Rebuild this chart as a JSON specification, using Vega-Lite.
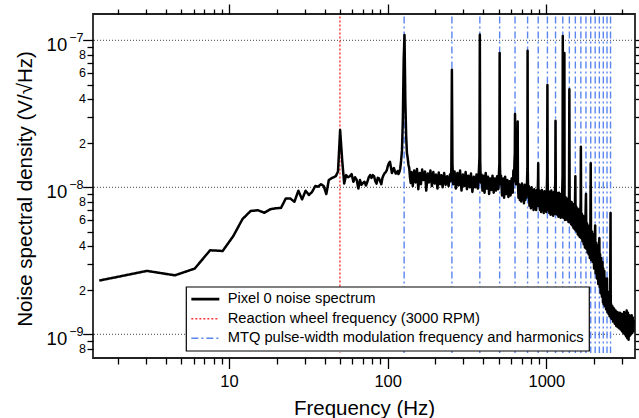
{
  "$schema": "https://vega.github.io/schema/vega-lite/v6.json",
  "width": 542,
  "height": 344,
  "autosize": {"type": "none"},
  "padding": {"left": 93, "top": 14, "right": 4, "bottom": 60},
  "background": "white",
  "config": {
    "font": "Liberation Sans",
    "view": {"stroke": "#222", "strokeWidth": 1.8},
    "axis": {"grid": false, "domain": false, "tickColor": "#000", "tickWidth": 1.3, "labelColor": "#000", "titleColor": "#000", "titleFontWeight": "normal", "labelOverlap": false, "labelFlush": false, "labelBound": false},
    "legend": {"strokeWidth": 1.2, "labelLimit": 0}
  },
  "datasets": {
    "spec": [
      {"f":1.52,"v":2.32e-9},{"f":3.04,"v":2.70e-9},{"f":4.56,"v":2.52e-9},{"f":6.08,"v":2.80e-9},{"f":7.6,"v":3.73e-9},{"f":9.12,"v":3.69e-9},{"f":10.64,"v":4.66e-9},{"f":12.16,"v":6.08e-9},{"f":13.68,"v":6.90e-9},{"f":15.2,"v":6.98e-9},{"f":16.72,"v":6.71e-9},{"f":18.24,"v":7.10e-9},{"f":19.76,"v":7.20e-9},{"f":21.28,"v":7.25e-9},{"f":22.8,"v":8.40e-9},{"f":24.32,"v":8.40e-9},{"f":25.84,"v":7.97e-9},{"f":27.36,"v":9.48e-9},{"f":28.88,"v":8.28e-9},{"f":30.4,"v":9.48e-9},{"f":31.92,"v":8.86e-9},{"f":33.44,"v":9.33e-9},{"f":34.96,"v":1.02e-8},{"f":36.48,"v":1.01e-8},{"f":38.0,"v":1.05e-8},{"f":39.52,"v":1.02e-8},{"f":41.04,"v":9.0e-9},{"f":42.56,"v":1.12e-8},{"f":44.08,"v":1.15e-8},{"f":45.6,"v":1.17e-8},{"f":47.12,"v":1.19e-8},{"f":48.64,"v":1.28e-8},{"f":50.16,"v":2.45e-8},{"f":51.68,"v":1.53e-8},{"f":53.2,"v":1.06e-8},{"f":54.72,"v":1.21e-8},{"f":56.24,"v":1.17e-8},{"f":57.76,"v":1.19e-8},{"f":59.28,"v":1.23e-8},{"f":60.8,"v":1.09e-8},{"f":62.32,"v":1.17e-8},{"f":63.84,"v":1.12e-8},{"f":65.36,"v":9.8e-9},{"f":66.88,"v":1.12e-8},{"f":68.4,"v":1.04e-8},{"f":69.92,"v":1.07e-8},{"f":71.44,"v":1.09e-8},{"f":72.96,"v":1.03e-8},{"f":74.48,"v":1.09e-8},{"f":76.0,"v":1.17e-8},{"f":77.52,"v":1.21e-8},{"f":79.04,"v":1.16e-8},{"f":80.56,"v":1.21e-8},{"f":82.08,"v":1.19e-8},{"f":83.6,"v":1.10e-8},{"f":85.12,"v":1.06e-8},{"f":86.64,"v":1.16e-8},{"f":88.16,"v":1.15e-8},{"f":89.68,"v":1.10e-8},{"f":91.2,"v":1.05e-8},{"f":92.72,"v":1.16e-8},{"f":94.24,"v":1.21e-8},{"f":95.76,"v":1.25e-8},{"f":97.28,"v":1.27e-8},{"f":98.8,"v":1.31e-8},{"f":100.32,"v":1.40e-8},{"f":101.84,"v":1.46e-8},{"f":103.36,"v":1.49e-8},{"f":104.88,"v":1.37e-8},{"f":106.4,"v":1.25e-8},{"f":107.92,"v":1.31e-8},{"f":109.44,"v":1.35e-8},{"f":110.96,"v":1.29e-8},{"f":112.48,"v":1.24e-8},{"f":114.0,"v":1.25e-8},{"f":115.52,"v":1.29e-8},{"f":117.04,"v":1.23e-8},{"f":118.56,"v":1.27e-8},{"f":120.08,"v":1.35e-8},{"f":121.6,"v":1.53e-8},{"f":123.12,"v":1.79e-8},{"f":124.64,"v":2.87e-8},{"f":126.16,"v":7.35e-8},{"f":127.68,"v":1.087e-7},{"f":129.2,"v":3.93e-8},{"f":130.72,"v":2.27e-8},{"f":132.24,"v":1.71e-8},{"f":133.76,"v":1.58e-8},{"f":135.28,"v":1.42e-8},{"f":136.8,"v":1.35e-8},{"f":138.32,"v":1.16e-8},{"f":139.84,"v":1.07e-8},{"f":141.36,"v":1.27e-8},
      {"f":144,"v":1.02e-8},{"f":147,"v":1.30e-8},{"f":150,"v":1.08e-8},{"f":153,"v":1.33e-8},{"f":156,"v":9.7e-9},{"f":159,"v":1.25e-8},{"f":162,"v":1.05e-8},{"f":165,"v":1.32e-8},{"f":168,"v":1.12e-8},{"f":172,"v":1.28e-8},{"f":175,"v":9.5e-9},{"f":179,"v":1.24e-8},{"f":182,"v":1.08e-8},{"f":186,"v":1.30e-8},{"f":190,"v":1.02e-8},{"f":194,"v":1.27e-8},{"f":198,"v":1.06e-8},{"f":202,"v":1.22e-8},{"f":206,"v":9.8e-9},{"f":210,"v":1.26e-8},{"f":214,"v":1.05e-8},{"f":218,"v":1.21e-8},{"f":222,"v":1.00e-8},{"f":227,"v":1.25e-8},{"f":232,"v":1.04e-8},{"f":237,"v":1.19e-8},{"f":242,"v":1.02e-8},{"f":247,"v":1.22e-8},{"f":250,"v":1.10e-8},{"f":252,"v":1.35e-8},{"f":254,"v":6.3e-8},{"f":256,"v":1.45e-8},{"f":259,"v":1.05e-8},
      {"f":264,"v":1.28e-8},{"f":269,"v":9.8e-9},{"f":275,"v":1.25e-8},{"f":280,"v":1.03e-8},{"f":286,"v":1.30e-8},{"f":292,"v":9.5e-9},{"f":298,"v":1.22e-8},{"f":304,"v":1.02e-8},{"f":310,"v":1.27e-8},{"f":316,"v":9.7e-9},{"f":322,"v":1.20e-8},{"f":329,"v":1.00e-8},{"f":335,"v":1.24e-8},{"f":342,"v":9.3e-9},{"f":349,"v":1.18e-8},{"f":356,"v":1.00e-8},{"f":363,"v":1.22e-8},{"f":370,"v":9.8e-9},{"f":376,"v":1.30e-8},{"f":379,"v":1.60e-8},{"f":381,"v":1.09e-7},{"f":383,"v":1.55e-8},{"f":386,"v":1.08e-8},
      {"f":390,"v":1.22e-8},{"f":396,"v":9.5e-9},{"f":402,"v":1.20e-8},{"f":408,"v":9.2e-9},{"f":415,"v":1.25e-8},{"f":422,"v":9.8e-9},{"f":429,"v":1.18e-8},{"f":436,"v":9.0e-9},{"f":443,"v":1.15e-8},{"f":450,"v":9.6e-9},{"f":458,"v":1.20e-8},{"f":466,"v":9.2e-9},{"f":474,"v":1.15e-8},{"f":482,"v":9.5e-9},{"f":490,"v":1.19e-8},{"f":498,"v":9.7e-9},{"f":503,"v":1.25e-8},{"f":506,"v":1.45e-8},{"f":508,"v":8.2e-8},{"f":510,"v":1.40e-8},{"f":514,"v":1.05e-8},
      {"f":518,"v":1.20e-8},{"f":526,"v":8.8e-9},{"f":534,"v":1.15e-8},{"f":542,"v":8.5e-9},{"f":550,"v":1.18e-8},{"f":559,"v":9.0e-9},{"f":568,"v":1.12e-8},{"f":577,"v":8.6e-9},{"f":586,"v":1.10e-8},{"f":595,"v":8.8e-9},{"f":605,"v":1.15e-8},{"f":614,"v":9.2e-9},{"f":620,"v":1.30e-8},{"f":626,"v":1.10e-8},{"f":630,"v":1.50e-8},{"f":633,"v":1.7e-8},{"f":635,"v":3.15e-8},{"f":638,"v":1.3e-8},{"f":645,"v":1.05e-8},{"f":652,"v":1.4e-8},{"f":658,"v":1.8e-8},{"f":660,"v":2.8e-8},{"f":662,"v":1.1e-8},{"f":668,"v":8.5e-9},
      {"f":674,"v":1.05e-8},{"f":681,"v":8.2e-9},{"f":688,"v":1.02e-8},{"f":695,"v":8.0e-9},{"f":702,"v":1.06e-8},{"f":709,"v":8.4e-9},{"f":716,"v":1.00e-8},{"f":723,"v":7.8e-9},{"f":730,"v":1.04e-8},{"f":737,"v":8.2e-9},{"f":744,"v":1.00e-8},{"f":750,"v":8.5e-9},{"f":756,"v":1.10e-8},{"f":760,"v":1.35e-8},{"f":762,"v":8.5e-8},{"f":764,"v":1.3e-8},{"f":768,"v":9.0e-9},
      {"f":775,"v":1.02e-8},{"f":783,"v":7.5e-9},{"f":791,"v":9.8e-9},{"f":799,"v":7.2e-9},{"f":807,"v":1.00e-8},{"f":815,"v":7.4e-9},{"f":823,"v":9.5e-9},{"f":831,"v":7.0e-9},{"f":839,"v":9.7e-9},{"f":847,"v":7.3e-9},{"f":855,"v":9.4e-9},{"f":863,"v":7.0e-9},{"f":871,"v":9.6e-9},{"f":878,"v":7.5e-9},{"f":884,"v":1.00e-8},{"f":887,"v":1.15e-8},{"f":889,"v":1.46e-8},{"f":891,"v":1.05e-8},{"f":895,"v":7.5e-9},
      {"f":903,"v":9.5e-9},{"f":911,"v":7.0e-9},{"f":919,"v":9.3e-9},{"f":928,"v":6.8e-9},{"f":937,"v":9.6e-9},{"f":946,"v":7.0e-9},{"f":955,"v":9.2e-9},{"f":964,"v":6.7e-9},{"f":973,"v":9.4e-9},{"f":982,"v":6.9e-9},{"f":991,"v":9.0e-9},{"f":1000,"v":6.8e-9},{"f":1007,"v":9.5e-9},{"f":1012,"v":1.2e-8},{"f":1016,"v":4.96e-8},{"f":1020,"v":1.1e-8},{"f":1025,"v":7.0e-9},
      {"f":1035,"v":9.4e-9},{"f":1045,"v":6.7e-9},{"f":1055,"v":9.2e-9},{"f":1065,"v":6.5e-9},{"f":1075,"v":9.5e-9},{"f":1085,"v":6.8e-9},{"f":1095,"v":9.0e-9},{"f":1105,"v":6.4e-9},{"f":1115,"v":9.3e-9},{"f":1125,"v":6.6e-9},{"f":1133,"v":9.2e-9},{"f":1139,"v":1.1e-8},{"f":1143,"v":2.84e-8},{"f":1147,"v":1.0e-8},{"f":1152,"v":6.6e-9},
      {"f":1162,"v":9.2e-9},{"f":1172,"v":6.5e-9},{"f":1182,"v":9.0e-9},{"f":1192,"v":6.3e-9},{"f":1202,"v":9.2e-9},{"f":1212,"v":6.4e-9},{"f":1222,"v":8.8e-9},{"f":1232,"v":6.2e-9},{"f":1242,"v":9.0e-9},{"f":1252,"v":6.3e-9},{"f":1260,"v":9.5e-9},{"f":1266,"v":1.2e-8},{"f":1270,"v":1.07e-7},{"f":1274,"v":1.0e-8},{"f":1280,"v":6.2e-9},{"f":1286,"v":9.0e-9},{"f":1293,"v":6.2e-9},{"f":1298,"v":1.0e-8},{"f":1300,"v":8.2e-8},{"f":1303,"v":8.5e-9},{"f":1310,"v":6.0e-9},
      {"f":1320,"v":8.6e-9},{"f":1332,"v":6.1e-9},{"f":1344,"v":8.4e-9},{"f":1356,"v":6.0e-9},{"f":1368,"v":8.3e-9},{"f":1380,"v":5.8e-9},{"f":1390,"v":8.8e-9},{"f":1397,"v":4.65e-8},{"f":1403,"v":8.0e-9},{"f":1410,"v":5.8e-9},
      {"f":1422,"v":8.0e-9},{"f":1434,"v":5.6e-9},{"f":1446,"v":7.9e-9},{"f":1458,"v":5.5e-9},{"f":1470,"v":7.7e-9},{"f":1482,"v":5.3e-9},{"f":1494,"v":7.6e-9},{"f":1506,"v":5.2e-9},{"f":1516,"v":7.8e-9},{"f":1524,"v":1.19e-8},{"f":1530,"v":5.1e-9},
      {"f":1542,"v":7.4e-9},{"f":1554,"v":5.0e-9},{"f":1566,"v":7.2e-9},{"f":1578,"v":4.8e-9},{"f":1590,"v":7.1e-9},{"f":1602,"v":4.7e-9},{"f":1614,"v":6.9e-9},{"f":1626,"v":4.6e-9},{"f":1638,"v":6.8e-9},{"f":1646,"v":8.0e-9},{"f":1651,"v":1.89e-8},{"f":1656,"v":7.0e-9},{"f":1662,"v":4.5e-9},
      {"f":1675,"v":6.6e-9},{"f":1690,"v":4.3e-9},{"f":1705,"v":6.4e-9},{"f":1720,"v":4.1e-9},{"f":1735,"v":6.2e-9},{"f":1750,"v":3.9e-9},{"f":1765,"v":6.2e-9},{"f":1778,"v":9.0e-9},{"f":1790,"v":3.8e-9},{"f":1805,"v":5.7e-9},{"f":1820,"v":3.6e-9},{"f":1835,"v":5.5e-9},{"f":1850,"v":3.5e-9},{"f":1865,"v":5.3e-9},{"f":1880,"v":3.3e-9},{"f":1895,"v":5.5e-9},{"f":1905,"v":1.46e-8},{"f":1912,"v":5.0e-9},{"f":1920,"v":3.2e-9},
      {"f":1940,"v":5.0e-9},{"f":1960,"v":3.1e-9},{"f":1980,"v":4.8e-9},{"f":2000,"v":2.8e-9},{"f":2020,"v":4.5e-9},{"f":2032,"v":5.5e-9},{"f":2045,"v":2.6e-9},{"f":2065,"v":4.2e-9},{"f":2085,"v":2.4e-9},{"f":2105,"v":4.0e-9},{"f":2125,"v":2.2e-9},{"f":2145,"v":3.7e-9},{"f":2159,"v":4.5e-9},{"f":2170,"v":2.1e-9},{"f":2182,"v":3.5e-9},
      {"f":2200,"v":1.9e-9},{"f":2220,"v":3.3e-9},{"f":2240,"v":1.8e-9},{"f":2260,"v":3.1e-9},{"f":2275,"v":1.65e-9},{"f":2286,"v":2.8e-9},{"f":2300,"v":1.6e-9},{"f":2320,"v":2.7e-9},{"f":2340,"v":1.55e-9},{"f":2360,"v":2.4e-9},{"f":2380,"v":1.48e-9},{"f":2400,"v":2.1e-9},{"f":2413,"v":2.4e-9},{"f":2425,"v":1.42e-9},{"f":2445,"v":1.95e-9},{"f":2465,"v":1.38e-9},{"f":2485,"v":1.8e-9},{"f":2505,"v":1.33e-9},{"f":2525,"v":1.7e-9},{"f":2540,"v":6.7e-9},{"f":2548,"v":1.3e-9},{"f":2565,"v":1.6e-9},{"f":2585,"v":1.27e-9},
      {"f":2610,"v":1.55e-9},{"f":2640,"v":1.22e-9},{"f":2670,"v":1.5e-9},{"f":2700,"v":1.18e-9},{"f":2730,"v":1.45e-9},{"f":2760,"v":1.14e-9},{"f":2790,"v":1.42e-9},{"f":2820,"v":1.12e-9},{"f":2850,"v":1.40e-9},{"f":2880,"v":1.10e-9},{"f":2910,"v":1.40e-9},{"f":2940,"v":1.08e-9},{"f":2970,"v":1.38e-9},{"f":3000,"v":1.05e-9},{"f":3030,"v":1.37e-9},{"f":3060,"v":1.02e-9},{"f":3090,"v":1.42e-9},{"f":3120,"v":1.0e-9},{"f":3150,"v":1.38e-9},{"f":3180,"v":9.7e-10},{"f":3210,"v":1.45e-9},{"f":3240,"v":9.4e-10},{"f":3270,"v":1.40e-9},{"f":3300,"v":9.2e-10},{"f":3330,"v":1.35e-9},{"f":3360,"v":9.8e-10},{"f":3390,"v":1.32e-9},{"f":3420,"v":1.0e-9},{"f":3450,"v":1.35e-9},{"f":3480,"v":1.02e-9},{"f":3510,"v":1.30e-9},{"f":3540,"v":1.05e-9},{"f":3556,"v":1.25e-9}
    ],
    "mtq": [
      {"f":127},{"f":254},{"f":381},{"f":508},{"f":635},{"f":762},{"f":889},{"f":1016},{"f":1143},{"f":1270},{"f":1397},{"f":1524},{"f":1651},{"f":1778},{"f":1905},{"f":2032},{"f":2159},{"f":2286},{"f":2413},{"f":2540}
    ],
    "wheel": [{"f":50}],
    "grid": [{"v":1e-9},{"v":1e-8},{"v":1e-7}]
  },
  "layer": [
    {
      "data": {"name": "grid"},
      "mark": {"type": "rule", "color": "#444", "strokeWidth": 1, "strokeDash": [1, 2]},
      "encoding": {
        "y": {"field": "v", "type": "quantitative",
          "scale": {"type": "log", "domain": [6.9e-10, 1.51e-7], "nice": false},
          "axis": {"orient": "right", "title": null, "labels": false,
            "values": [8e-10,9e-10,1e-9,2e-9,3e-9,4e-9,5e-9,6e-9,7e-9,8e-9,9e-9,1e-8,2e-8,3e-8,4e-8,5e-8,6e-8,7e-8,8e-8,9e-8,1e-7],
            "tickSize": {"condition": {"test": "abs(log(datum.value)/LN10 - round(log(datum.value)/LN10)) < 0.001", "value": 10}, "value": 5}}}
      }
    },
    {
      "data": {"name": "wheel"},
      "mark": {"type": "rule", "strokeWidth": 1.4},
      "encoding": {
        "x": {"field": "f", "type": "quantitative",
          "scale": {"type": "log", "domain": [1.389, 3622], "nice": false},
          "axis": {"orient": "top", "title": null, "labels": false,
            "values": [2,3,4,5,6,7,8,9,10,20,30,40,50,60,70,80,90,100,200,300,400,500,600,700,800,900,1000,2000,3000],
            "tickSize": {"condition": {"test": "abs(log(datum.value)/LN10 - round(log(datum.value)/LN10)) < 0.001", "value": 10}, "value": 5}}},
        "y": {"datum": 1.45e-7, "type": "quantitative",
          "scale": {"type": "log", "domain": [6.9e-10, 1.51e-7], "nice": false},
          "axis": {"orient": "left", "title": null, "values": [1e-9, 1e-8, 1e-7], "ticks": false, "tickSize": 0,
            "labelExpr": "'10'", "labelFontSize": 18.5, "labelPadding": 26.3, "labelOffset": 4, "labelBaseline": "middle"}},
        "y2": {"datum": 7.45e-10},
        "color": {"datum": "Reaction wheel frequency (3000 RPM)", "type": "nominal",
          "scale": {"domain": ["Pixel 0 noise spectrum", "Reaction wheel frequency (3000 RPM)", "MTQ pulse-width modulation frequency and harmonics"], "range": ["#000000", "#ff3030", "#5b86f0"]},
          "legend": {"title": null, "orient": "none", "legendX": 93, "legendY": 272.7, "symbolType": "M-1,0H3", "symbolSize": 196, "symbolStrokeWidth": 1.5, "symbolFillColor": "transparent", "labelFontSize": 14.7, "labelColor": "#000", "labelOffset": 22, "labelLimit": 0, "padding": 5, "rowPadding": 3.6, "strokeColor": "#000", "fillColor": "#fff", "cornerRadius": 0,
            "encode": {"symbols": {"update": {"strokeWidth": {"signal": "datum.value === 'Pixel 0 noise spectrum' ? 2.7 : 1.5"}}}}}},
        "strokeDash": {"datum": "Reaction wheel frequency (3000 RPM)", "type": "nominal",
          "scale": {"domain": ["Pixel 0 noise spectrum", "Reaction wheel frequency (3000 RPM)", "MTQ pulse-width modulation frequency and harmonics"], "range": [[1, 0], [2, 2], [7, 3, 2, 3]]},
          "legend": {"title": null, "orient": "none", "legendX": 93, "legendY": 272.7, "symbolType": "M-1,0H3", "symbolSize": 196, "symbolStrokeWidth": 1.5, "symbolFillColor": "transparent", "labelFontSize": 14.7, "labelColor": "#000", "labelOffset": 22, "labelLimit": 0, "padding": 5, "rowPadding": 3.6, "strokeColor": "#000", "fillColor": "#fff", "cornerRadius": 0,
            "encode": {"symbols": {"update": {"strokeWidth": {"signal": "datum.value === 'Pixel 0 noise spectrum' ? 2.7 : 1.5"}}}}}}
      }
    },
    {
      "data": {"name": "mtq"},
      "mark": {"type": "rule", "strokeWidth": 1.4},
      "encoding": {
        "x": {"field": "f", "type": "quantitative",
          "scale": {"type": "log", "domain": [1.389, 3622], "nice": false}, "axis": null},
        "y": {"datum": 1.45e-7, "type": "quantitative",
          "scale": {"type": "log", "domain": [6.9e-10, 1.51e-7], "nice": false},
          "axis": {"orient": "left", "title": null, "values": [1e-9, 1e-8, 1e-7], "ticks": false, "tickSize": 0,
            "labelExpr": "'\u2212' + (-round(log(datum.value)/LN10))", "labelFontSize": 12.5, "labelPadding": 10, "labelOffset": -3, "labelBaseline": "middle"}},
        "y2": {"datum": 7.45e-10},
        "color": {"datum": "MTQ pulse-width modulation frequency and harmonics", "type": "nominal",
          "scale": {"domain": ["Pixel 0 noise spectrum", "Reaction wheel frequency (3000 RPM)", "MTQ pulse-width modulation frequency and harmonics"], "range": ["#000000", "#ff3030", "#5b86f0"]}},
        "strokeDash": {"datum": "MTQ pulse-width modulation frequency and harmonics", "type": "nominal",
          "scale": {"domain": ["Pixel 0 noise spectrum", "Reaction wheel frequency (3000 RPM)", "MTQ pulse-width modulation frequency and harmonics"], "range": [[1, 0], [2, 2], [7, 3, 2, 3]]}}
      }
    },
    {
      "data": {"name": "spec"},
      "mark": {"type": "line", "strokeWidth": 2.5, "strokeJoin": "round"},
      "encoding": {
        "x": {"field": "f", "type": "quantitative",
          "scale": {"type": "log", "domain": [1.389, 3622], "nice": false},
          "axis": {"orient": "bottom", "title": "Frequency (Hz)", "titleFontSize": 20.5, "titleX": 271, "titleY": 56.3, "titleBaseline": "alphabetic", "titleAlign": "center",
            "values": [2,3,4,5,6,7,8,9,10,20,30,40,50,60,70,80,90,100,200,300,400,500,600,700,800,900,1000,2000,3000],
            "labelExpr": "(datum.value == 10 || datum.value == 100 || datum.value == 1000) ? ('' + datum.value) : ''",
            "labelFontSize": 16.5, "labelPadding": 5,
            "tickSize": {"condition": {"test": "abs(log(datum.value)/LN10 - round(log(datum.value)/LN10)) < 0.001", "value": 10.5}, "value": 6}}},
        "y": {"field": "v", "type": "quantitative",
          "scale": {"type": "log", "domain": [6.9e-10, 1.51e-7], "nice": false},
          "axis": {"orient": "left", "title": "Noise spectral density (V/\u221aHz)", "titleFontSize": 20.5, "titleX": -61.7, "titleY": 174.5, "titleAngle": -90, "titleBaseline": "alphabetic", "titleAlign": "center",
            "values": [8e-10,9e-10,1e-9,2e-9,3e-9,4e-9,5e-9,6e-9,7e-9,8e-9,9e-9,1e-8,2e-8,3e-8,4e-8,5e-8,6e-8,7e-8,8e-8,9e-8,1e-7],
            "labelExpr": "indexof([2,4,6,8], round(datum.value / pow(10, floor(log(datum.value)/LN10 + 0.001)))) >= 0 ? ('' + round(datum.value / pow(10, floor(log(datum.value)/LN10 + 0.001)))) : ''",
            "labelFontSize": 12.5, "labelPadding": 1.5, "labelBaseline": "middle",
            "tickSize": {"condition": {"test": "abs(log(datum.value)/LN10 - round(log(datum.value)/LN10)) < 0.001", "value": 10.3}, "value": 6}}},
        "color": {"datum": "Pixel 0 noise spectrum", "type": "nominal",
          "scale": {"domain": ["Pixel 0 noise spectrum", "Reaction wheel frequency (3000 RPM)", "MTQ pulse-width modulation frequency and harmonics"], "range": ["#000000", "#ff3030", "#5b86f0"]}},
        "strokeDash": {"datum": "Pixel 0 noise spectrum", "type": "nominal",
          "scale": {"domain": ["Pixel 0 noise spectrum", "Reaction wheel frequency (3000 RPM)", "MTQ pulse-width modulation frequency and harmonics"], "range": [[1, 0], [2, 2], [7, 3, 2, 3]]}}
      }
    }
  ],
  "resolve": {"axis": {"x": "independent", "y": "independent"}}
}
